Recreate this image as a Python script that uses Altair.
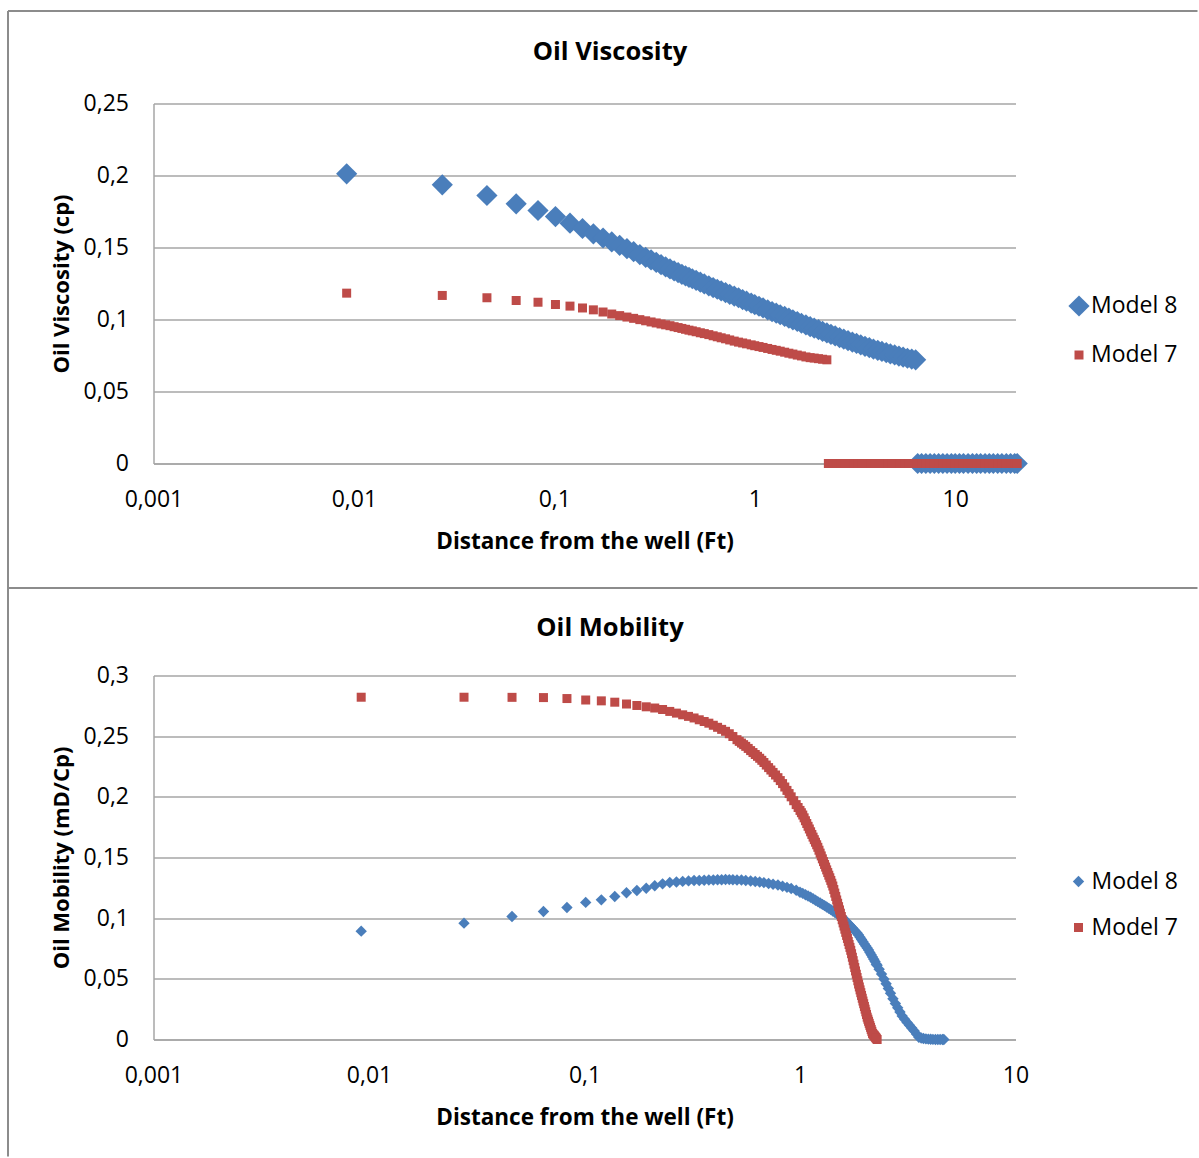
import altair as alt
import pandas as pd

FONT = "Open Sans"
BLUE = "#4A7EBB"
RED = "#BE4B48"
GRID = "#A6A6A6"
BORDER = "#8C8C8C"
TXT = "#000000"

SERIES = ["Model 8", "Model 7"]
X_TICKS = [0.001, 0.01, 0.1, 1, 10]
TOP_Y_TICKS = [0, 0.05, 0.1, 0.15, 0.2, 0.25]
BOT_Y_TICKS = [0, 0.05, 0.1, 0.15, 0.2, 0.25, 0.3]

# distances of the first, individually visible markers (Ft)
GRID_X = [0.0092, 0.0276, 0.0461, 0.0645, 0.0829, 0.1013, 0.1197, 0.1382, 0.1566,
          0.175, 0.1934, 0.2118, 0.2303, 0.2487, 0.2671, 0.2855, 0.3039, 0.3224,
          0.3408, 0.3592, 0.3776, 0.396, 0.4145, 0.4329, 0.4513, 0.4697, 0.4881]

# ---------------- Oil Viscosity ----------------
TOP_MID_X = [0.51, 0.535, 0.56, 0.59, 0.62, 0.65, 0.68, 0.715, 0.75, 0.79, 0.83, 0.87,
             0.91, 0.96, 1.0, 1.05, 1.1, 1.16, 1.22, 1.28, 1.34, 1.41, 1.48, 1.55,
             1.63, 1.71, 1.8, 1.89, 1.98, 2.08, 2.18, 2.29]
TOP_M8_TAIL_X = [2.4, 2.52, 2.65, 2.78, 2.92, 3.07, 3.22, 3.38, 3.55, 3.73, 3.91, 4.11,
                 4.31, 4.53, 4.75, 4.99, 5.24, 5.5, 5.78, 6.07, 6.35]

VISC_M8 = [0.2012, 0.1935, 0.1861, 0.1803, 0.1757, 0.1715, 0.1669, 0.1632, 0.1595,
           0.1566, 0.1539, 0.1515, 0.1492, 0.1471, 0.1451, 0.1432, 0.1414, 0.1397,
           0.1381, 0.1365, 0.1351, 0.1337, 0.1326, 0.1314, 0.1303, 0.1293, 0.1283,
           0.1272, 0.1259, 0.1247, 0.1234, 0.1222, 0.1210, 0.1199, 0.1187, 0.1175,
           0.1163, 0.1151, 0.1138, 0.1127, 0.1114, 0.1104, 0.1092, 0.1081, 0.1067,
           0.1055, 0.1044, 0.1033, 0.1021, 0.1009, 0.0998, 0.0986, 0.0974, 0.0962,
           0.0950, 0.0940, 0.0929, 0.0918, 0.0907,
           0.0897, 0.0886, 0.0874, 0.0864, 0.0853, 0.0843, 0.0834, 0.0824, 0.0814,
           0.0804, 0.0795, 0.0786, 0.0778, 0.0770, 0.0762, 0.0754, 0.0746, 0.0738,
           0.0731, 0.0725, 0.0720]
VISC_M7 = [0.1183, 0.1167, 0.1151, 0.1132, 0.1120, 0.1104, 0.1093, 0.1080, 0.1067,
           0.1052, 0.1038, 0.1027, 0.1017, 0.1008, 0.0999, 0.0991, 0.0983, 0.0976,
           0.0969, 0.0963, 0.0957, 0.0950, 0.0944, 0.0938, 0.0932, 0.0926, 0.0921,
           0.0915, 0.0908, 0.0902, 0.0895, 0.0887, 0.0880, 0.0873, 0.0866, 0.0858,
           0.0850, 0.0843, 0.0837, 0.0831, 0.0824, 0.0818, 0.0812, 0.0806, 0.0799,
           0.0792, 0.0786, 0.0780, 0.0773, 0.0766, 0.0760, 0.0753, 0.0747, 0.0740,
           0.0735, 0.0732, 0.0728, 0.0724, 0.0720]

VISC_M8_ZERO_X = [6.5, 6.8, 7.14, 7.5, 7.87, 8.27, 8.68, 9.11, 9.57, 10.0, 10.5, 11.0,
                  11.6, 12.2, 12.8, 13.4, 14.1, 14.8, 15.5, 16.3, 17.1, 18.0, 18.9,
                  19.8, 20.4]
VISC_M8_ZERO_Y = [0, 0, 0, 0, 0, 0, 0, 0, 0, 0, 0, 0, 0, 0, 0, 0, 0, 0, 0, 0, 0, 0, 0,
                  0, 0]
VISC_M7_ZERO_X = [2.33, 2.45, 2.57, 2.7, 2.83, 2.97, 3.12, 3.28, 3.44, 3.61, 3.79, 3.98,
                  4.18, 4.39, 4.61, 4.84, 5.08, 5.33, 5.6, 5.88, 6.17, 6.48, 6.8, 7.14,
                  7.5, 7.87, 8.27, 8.68, 9.11, 9.57, 10.0, 10.5, 11.0, 11.6, 12.2, 12.8,
                  13.4, 14.1, 14.8, 15.5, 16.3, 17.1, 18.0, 18.9, 19.8, 20.4]
VISC_M7_ZERO_Y = [0, 0, 0, 0, 0, 0, 0, 0, 0, 0, 0, 0, 0, 0, 0, 0, 0, 0, 0, 0, 0, 0, 0,
                  0, 0, 0, 0, 0, 0, 0, 0, 0, 0, 0, 0, 0, 0, 0, 0, 0, 0, 0, 0, 0, 0, 0]

# ---------------- Oil Mobility ----------------
BOT_MID_X = [0.51, 0.535, 0.56, 0.59, 0.62, 0.65, 0.68, 0.715, 0.75, 0.79, 0.83, 0.87,
             0.91, 0.96, 1.0, 1.03, 1.06, 1.09, 1.12, 1.15, 1.18, 1.21, 1.24, 1.27,
             1.3, 1.33, 1.36, 1.39, 1.42, 1.45, 1.48, 1.51, 1.54, 1.57, 1.6, 1.63,
             1.66, 1.69, 1.72, 1.75, 1.78, 1.81, 1.84, 1.87, 1.9, 1.93, 1.96, 1.99,
             2.02, 2.05, 2.08, 2.11, 2.14, 2.17, 2.2, 2.23, 2.26, 2.28]
BOT_M8_TAIL_X = [2.33, 2.39, 2.45, 2.51, 2.57, 2.63, 2.7, 2.77, 2.84, 2.91, 2.98, 3.06,
                 3.14, 3.22, 3.3, 3.38, 3.47, 3.56, 3.65, 3.74, 3.84, 3.94, 4.04, 4.14,
                 4.25, 4.36, 4.47, 4.58, 4.65]

MOB_M8 = [0.0893, 0.0959, 0.1014, 0.1055, 0.1088, 0.1130, 0.1151, 0.1179, 0.1209,
          0.1228, 0.1247, 0.1267, 0.1283, 0.1294, 0.1298, 0.1303, 0.1307, 0.1310,
          0.1311, 0.1313, 0.1314, 0.1315, 0.1316, 0.1317, 0.1319, 0.1318, 0.1317,
          0.1315, 0.1314, 0.1311, 0.1306, 0.1302, 0.1298, 0.1293, 0.1286, 0.1280,
          0.1273, 0.1263, 0.1254, 0.1245, 0.1230, 0.1214,
          0.1204, 0.1193, 0.1183, 0.1172, 0.1160, 0.1148, 0.1136, 0.1125, 0.1114,
          0.1103, 0.1092, 0.1081, 0.1070, 0.1059, 0.1049, 0.1038, 0.1028, 0.1018,
          0.1008, 0.0992, 0.0977, 0.0962, 0.0947, 0.0933, 0.0919, 0.0905, 0.0891,
          0.0877, 0.0861, 0.0842, 0.0824, 0.0806, 0.0788, 0.0771, 0.0754, 0.0737,
          0.0718, 0.0699, 0.0680, 0.0661, 0.0642, 0.0620, 0.0612,
          0.0579, 0.0539, 0.0499, 0.0460, 0.0420, 0.0381, 0.0336, 0.0297, 0.0262,
          0.0227, 0.0193, 0.0166, 0.0141, 0.0118, 0.0095, 0.0073, 0.0045, 0.0019,
          0.0012, 0.0008, 0.0005, 0.0003, 0.0002, 0.0001, 0.0, 0.0, 0.0, 0.0, 0.0]
MOB_M7 = [0.2821, 0.2821, 0.2820, 0.2818, 0.2810, 0.2798, 0.2791, 0.2780, 0.2765,
          0.2753, 0.2742, 0.2732, 0.2720, 0.2704, 0.2690, 0.2676, 0.2663, 0.2650,
          0.2635, 0.2621, 0.2607, 0.2590, 0.2573, 0.2556, 0.2540, 0.2520, 0.2497,
          0.2471, 0.2443, 0.2416, 0.2381, 0.2349, 0.2318, 0.2283, 0.2241, 0.2201,
          0.2158, 0.2109, 0.2053, 0.2000, 0.1936, 0.1888,
          0.1850, 0.1803, 0.1757, 0.1712, 0.1668, 0.1626, 0.1584, 0.1536, 0.1489,
          0.1443, 0.1398, 0.1354, 0.1311, 0.1265, 0.1207, 0.1150, 0.1095, 0.1041,
          0.0987, 0.0935, 0.0883, 0.0833, 0.0783, 0.0735, 0.0678, 0.0621, 0.0565,
          0.0511, 0.0457, 0.0409, 0.0363, 0.0317, 0.0272, 0.0228, 0.0184, 0.0150,
          0.0116, 0.0083, 0.0050, 0.0036, 0.0023, 0.0009, 0.0]
# extra Model 7 readings where its band falls steeply
MOB_M7_FILL_X = [0.5225, 0.5475, 0.575, 0.605, 0.635, 0.665, 0.6975, 0.7325, 0.77, 0.81,
                 0.85, 0.89, 0.935, 0.98, 1.015, 1.045, 1.075, 1.105, 1.135, 1.165,
                 1.195, 1.225, 1.255, 1.285, 1.315, 1.345, 1.375, 1.405, 1.435, 1.465,
                 1.495, 1.525, 1.555, 1.585, 1.615, 1.645, 1.675, 1.705, 1.735, 1.765,
                 1.795, 1.825, 1.855, 1.885, 1.915, 1.945, 1.975, 2.005, 2.035, 2.065,
                 2.095, 2.125, 2.155, 2.185, 2.215, 2.245]
MOB_M7_FILL_Y = [0.2457, 0.2430, 0.2399, 0.2365, 0.2334, 0.2301, 0.2262, 0.2221, 0.2180,
                 0.2134, 0.2081, 0.2027, 0.1968, 0.1912, 0.1869, 0.1827, 0.1780, 0.1735,
                 0.1690, 0.1647, 0.1605, 0.1560, 0.1513, 0.1466, 0.1421, 0.1376, 0.1333,
                 0.1288, 0.1236, 0.1179, 0.1123, 0.1068, 0.1014, 0.0961, 0.0909, 0.0858,
                 0.0808, 0.0759, 0.0707, 0.0650, 0.0593, 0.0538, 0.0484, 0.0433, 0.0386,
                 0.0340, 0.0295, 0.0250, 0.0206, 0.0167, 0.0133, 0.0100, 0.0067, 0.0043,
                 0.0030, 0.0016]


def frame(xs, ys, name):
    return pd.DataFrame({"x": xs, "y": ys, "series": name})


top_df = pd.concat([
    frame(GRID_X + TOP_MID_X + TOP_M8_TAIL_X, VISC_M8, "Model 8"),
    frame(VISC_M8_ZERO_X, VISC_M8_ZERO_Y, "Model 8"),
    frame(GRID_X + TOP_MID_X, VISC_M7, "Model 7"),
    frame(VISC_M7_ZERO_X, VISC_M7_ZERO_Y, "Model 7"),
], ignore_index=True)

bot_df = pd.concat([
    frame(GRID_X + BOT_MID_X + BOT_M8_TAIL_X, MOB_M8, "Model 8"),
    frame(GRID_X + BOT_MID_X, MOB_M7, "Model 7"),
    frame(MOB_M7_FILL_X, MOB_M7_FILL_Y, "Model 7"),
], ignore_index=True)

deco_df = pd.DataFrame({"k": [0]})
COMMA = "replace(toString(datum.value), '.', ',')"


def panel(df, x_max, y_max, y_ticks, sizes, height, y_title, title, title_y,
          legend_x, legend_y, label_offset, row_pad, borders):
    x_axis = alt.Axis(values=X_TICKS, labelExpr=COMMA, grid=False, ticks=False,
                      tickSize=0, domainColor=GRID, domainWidth=1.5,
                      labelFont=FONT, labelFontSize=23, labelColor=TXT,
                      labelBaseline="alphabetic", labelPadding=43.2,
                      labelFlush=False, labelOverlap=False,
                      title="Distance from the well (Ft)", titleFont=FONT,
                      titleFontSize=22.5, titleFontWeight="bold", titleColor=TXT,
                      titleBaseline="alphabetic", titleY=84.5, titleX=431,
                      titleAlign="center")
    y_axis = alt.Axis(values=y_ticks, labelExpr=COMMA, grid=True, gridColor=GRID,
                      gridWidth=1.5, ticks=False, tickSize=0, domainColor=GRID,
                      domainWidth=1.5, labelFont=FONT, labelFontSize=23,
                      labelColor=TXT, labelPadding=25, labelFlush=False,
                      labelOverlap=False, title=y_title, titleFont=FONT,
                      titleFontSize=22, titleFontWeight="bold", titleColor=TXT,
                      titleAngle=270, titleBaseline="alphabetic", titleX=-85,
                      titleY=height / 2, titleAlign="center")
    pts = alt.Chart(df).mark_point(filled=True, opacity=1, strokeWidth=0).encode(
        x=alt.X("x:Q", scale=alt.Scale(type="log", domain=[0.001, x_max], nice=False),
                axis=x_axis),
        y=alt.Y("y:Q", scale=alt.Scale(domain=[0, y_max], nice=False), axis=y_axis),
        color=alt.Color("series:N", scale=alt.Scale(domain=SERIES, range=[BLUE, RED]),
                        legend=alt.Legend(title=None, orient="none", legendX=legend_x,
                                          legendY=legend_y, labelFont=FONT,
                                          labelFontSize=23, labelColor=TXT,
                                          labelOffset=label_offset,
                                          rowPadding=row_pad, padding=0)),
        shape=alt.Shape("series:N", scale=alt.Scale(domain=SERIES,
                                                    range=["diamond", "square"])),
        size=alt.Size("series:N", scale=alt.Scale(domain=SERIES, range=sizes)),
    )
    layers = [pts]
    ttl = alt.Chart(deco_df).mark_text(text=title, font=FONT, fontSize=25.5,
                                       fontWeight="bold", align="center",
                                       baseline="alphabetic", color=TXT).encode(
        x=alt.value(456.5), y=alt.value(title_y))
    layers.append(ttl)
    for b in borders:
        layers.append(alt.Chart(deco_df).mark_rule(color=BORDER, strokeWidth=2)
                      .encode(**b))
    return alt.layer(*layers).properties(width=862, height=height).resolve_scale(
        color="independent", shape="independent", size="independent")


top_borders = [
    dict(x=alt.value(-145.5), x2=alt.value(1044), y=alt.value(-92.5)),
    dict(x=alt.value(-145.5), y=alt.value(-92.5), y2=alt.value(485.5)),
    dict(x=alt.value(-145.5), x2=alt.value(1044), y=alt.value(484.5)),
]
bot_borders = [
    dict(x=alt.value(-145.5), y=alt.value(-88), y2=alt.value(481)),
]

top = panel(top_df, 20, 0.25, TOP_Y_TICKS, [450, 81], 360, "Oil Viscosity (cp)",
            "Oil Viscosity", -43.5, 914, 191, 0.5, 25, top_borders)
bot = panel(bot_df, 10, 0.3, BOT_Y_TICKS, [130, 81], 364, "Oil Mobility (mD/Cp)",
            "Oil Mobility", -40, 913.5, 194.5, 1.5, 22, bot_borders)

chart = alt.vconcat(top, bot, spacing=212, bounds="flush").resolve_scale(
    color="independent", shape="independent", size="independent", x="independent",
    y="independent").resolve_legend(color="independent", shape="independent",
                                    size="independent").properties(
    padding={"left": 6.5, "top": 9.5, "right": 0, "bottom": 0},
    background="white").configure_view(strokeWidth=0)

chart.save("out.html", embed_options={"renderer": "svg", "actions": False})
